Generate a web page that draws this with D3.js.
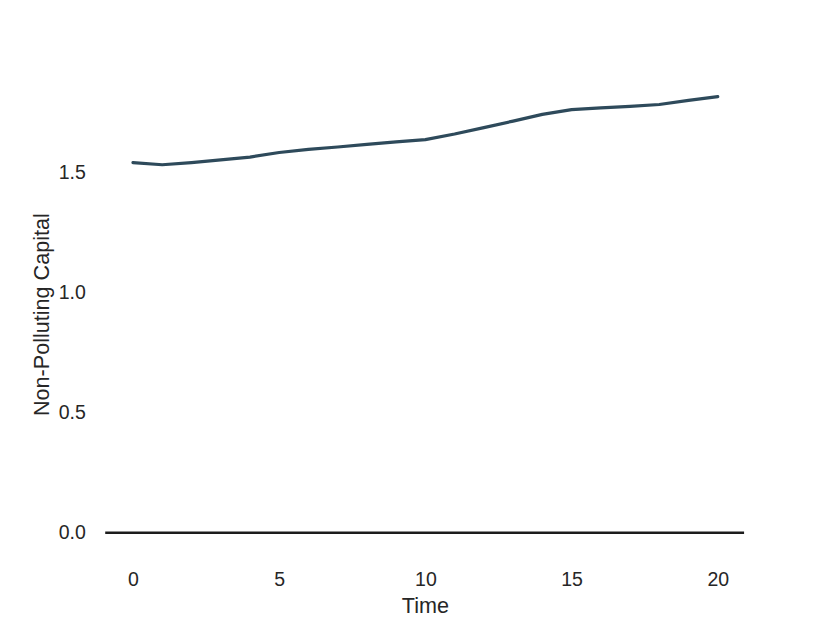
<!DOCTYPE html>
<html>
<head>
<meta charset="utf-8">
<script src="https://cdn.jsdelivr.net/npm/d3@7"></script>
<style>
  html, body { margin: 0; padding: 0; background: #fff; }
  text { font-family: "Liberation Sans", Arial, sans-serif; fill: #262626; }
</style>
</head>
<body>
<svg id="chart" width="830" height="623"></svg>
<script>
// Data
const time = [0,1,2,3,4,5,6,7,8,9,10,11,12,13,14,15,16,17,18,19,20];
const capital = [1.542,1.533,1.542,1.553,1.565,1.584,1.597,1.607,1.618,1.628,1.638,1.661,1.688,1.715,1.743,1.763,1.770,1.776,1.784,1.801,1.817];
const xTicks = [0,5,10,15,20];
const yTicks = [0.0,0.5,1.0,1.5];
const baseline = { value: 0, from: -0.95, to: 20.9 };

(function () {
const svg = d3.select("#chart");
const mLeft = 103.75, mRight = 747, mTop = 74.8, mBottom = 554.5;
const tickFont = "19.5px", labelFont = "21.6px";

const x = d3.scaleLinear().domain([-1, 21]).range([mLeft, mRight]);
const y = d3.scaleLinear().domain([-0.05 * 1.817, 1.05 * 1.817]).range([mBottom, mTop]);

// Y axis (no spine, no ticks)
const yAxis = svg.append("g").attr("transform", `translate(${mLeft - 18},0)`)
  .call(d3.axisLeft(y).tickValues(yTicks).tickFormat(d3.format(".1f")).tickSize(0).tickPadding(0));
yAxis.select(".domain").remove();
yAxis.selectAll("text").style("font-size", tickFont).attr("fill", "#262626")
  .style("font-family", "'Liberation Sans', Arial, sans-serif");

// X axis
const xAxis = svg.append("g").attr("transform", `translate(0,${mBottom + 18})`)
  .call(d3.axisBottom(x).tickValues(xTicks).tickFormat(d3.format("d")).tickSize(0).tickPadding(0));
xAxis.select(".domain").remove();
xAxis.selectAll("text").style("font-size", tickFont).attr("fill", "#262626")
  .style("font-family", "'Liberation Sans', Arial, sans-serif");

// Axis labels
svg.append("text")
  .attr("x", (mLeft + mRight) / 2).attr("y", 613)
  .attr("text-anchor", "middle").style("font-size", labelFont)
  .text("Time");
svg.append("text")
  .attr("transform", `translate(49,${(mTop + mBottom) / 2}) rotate(-90)`)
  .attr("text-anchor", "middle").style("font-size", labelFont)
  .text("Non-Polluting Capital");

// Baseline
svg.append("line")
  .attr("x1", x(baseline.from)).attr("x2", x(baseline.to))
  .attr("y1", y(baseline.value)).attr("y2", y(baseline.value))
  .attr("stroke", "#1c1c1c").attr("stroke-width", 2.5);

// Series line
const line = d3.line().x((d, i) => x(time[i])).y(d => y(d));
svg.append("path")
  .datum(capital)
  .attr("d", line)
  .attr("fill", "none")
  .attr("stroke", "#2e4a5b")
  .attr("stroke-width", 3.2)
  .attr("stroke-linecap", "round")
  .attr("stroke-linejoin", "round");
})();
</script>
</body>
</html>
